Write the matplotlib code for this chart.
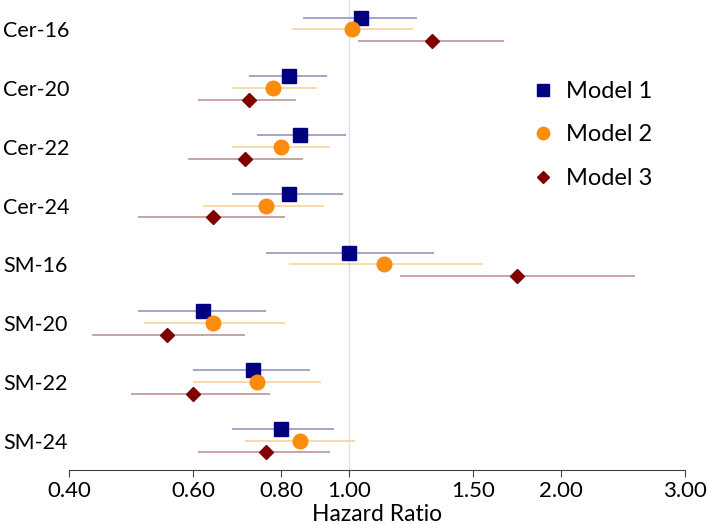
import numpy as np
import matplotlib
matplotlib.use("Agg")
import matplotlib.pyplot as plt
from matplotlib.ticker import FixedLocator, NullLocator

plt.rcParams['font.family'] = ['Lato', 'DejaVu Sans']

rows = ["Cer-16", "Cer-20", "Cer-22", "Cer-24", "SM-16", "SM-20", "SM-22", "SM-24"]
models = ["Model 1", "Model 2", "Model 3"]

# hazard ratio, lower CI, upper CI for each model
m1_hr = [1.04, 0.82, 0.85, 0.82, 1.00, 0.62, 0.73, 0.80]
m1_lo = [0.86, 0.72, 0.74, 0.68, 0.76, 0.50, 0.60, 0.68]
m1_hi = [1.25, 0.93, 0.99, 0.98, 1.32, 0.76, 0.88, 0.95]

m2_hr = [1.01, 0.78, 0.80, 0.76, 1.12, 0.64, 0.74, 0.85]
m2_lo = [0.83, 0.68, 0.68, 0.62, 0.82, 0.51, 0.60, 0.71]
m2_hi = [1.23, 0.90, 0.94, 0.92, 1.55, 0.81, 0.91, 1.02]

m3_hr = [1.31, 0.72, 0.71, 0.64, 1.73, 0.55, 0.60, 0.76]
m3_lo = [1.03, 0.61, 0.59, 0.50, 1.18, 0.43, 0.49, 0.61]
m3_hi = [1.66, 0.84, 0.86, 0.81, 2.55, 0.71, 0.77, 0.94]

xticks = [0.4, 0.6, 0.8, 1.0, 1.5, 2.0, 3.0]

series = [
    (m1_hr, m1_lo, m1_hi, "s", 10, "#000080", "#8c8cbb", -0.2),
    (m2_hr, m2_lo, m2_hi, "o", 10.5, "#fb8c0e", "#f6cf94", 0.0),
    (m3_hr, m3_lo, m3_hi, "D", 7, "#800000", "#b98c8c", 0.2),
]

fig = plt.figure(figsize=(7.09, 5.24), dpi=100)
ax = fig.add_axes([0.098, 0.103, 0.868, 0.897])

ax.axvline(1.0, color="#dfdfe6", lw=1, zorder=0)

y = np.arange(len(rows))
for (hr, lo, hi, mk, ms, c, lc, off), name in zip(series, models):
    ax.hlines(y + off, lo, hi, color=lc, lw=1.1, zorder=1)
    ax.plot(hr, y + off, ls="none", marker=mk, ms=ms, color=c, zorder=2, label=name)

ax.set_xscale("log")
ax.set_xlim(0.4, 3.0)
ax.set_ylim(len(rows) - 0.5, -0.5)
ax.xaxis.set_major_locator(FixedLocator(xticks))
ax.xaxis.set_minor_locator(NullLocator())
ax.set_xticklabels(["%.2f" % t for t in xticks], fontsize=16)
ax.set_yticks(y)
ax.set_yticklabels(rows, fontsize=15.5, ha="left")
ax.tick_params(axis="y", length=0, pad=48)
ax.tick_params(axis="x", length=5, color="#404040", pad=3)
for s in ["left", "right", "top"]:
    ax.spines[s].set_visible(False)
ax.spines["bottom"].set_color("#404040")
ax.set_xlabel("Hazard Ratio", fontsize=16.5, labelpad=2)

leg = ax.legend(loc="center left", bbox_to_anchor=(0.75, 0.713), frameon=False,
                fontsize=17, markerscale=0.85, handletextpad=0.48, labelspacing=0.95,
                handlelength=1.0, borderpad=0, borderaxespad=0)

fig.savefig("out.png", dpi=100)
